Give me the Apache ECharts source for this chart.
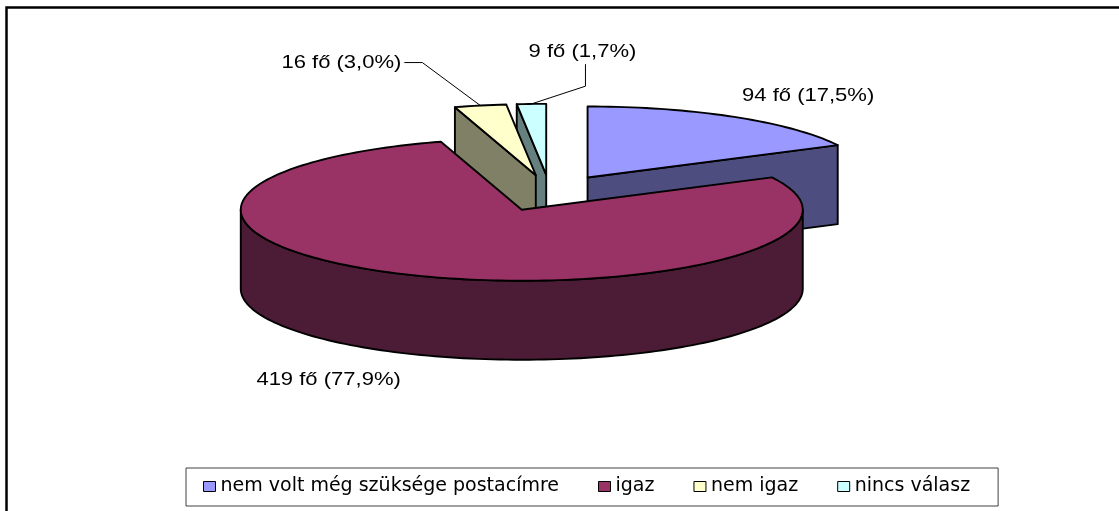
<!DOCTYPE html>
<html>
<head>
<meta charset="utf-8">
<script src="https://cdn.jsdelivr.net/npm/echarts@6/dist/echarts.min.js"></script>
<style>
  html, body { margin: 0; padding: 0; background: #fff; }
  #main { width: 1119px; height: 511px; }
</style>
</head>
<body>
<div id="main"></div>
<script>
// data
const categories = ['nem volt még szüksége postacímre', 'igaz', 'nem igaz', 'nincs válasz'];
const counts = [94, 419, 16, 9];
const topColors = ['#9999FF', '#993366', '#FFFFCC', '#CCFFFF'];
const sideColors = ['#4D4D80', '#4C1B35', '#808066', '#668080'];

// layout of the fake 3d pie (pixels)
const pie = { cx: 550, cy: 193, rx: 281, ry: 71, depth: 79, explode: 72 };
const labelShift = [[74, -21], [-83, 105], [-139, -43], [51, -52]];
const labelFont = { size: 18.5, family: '"Liberation Sans", Arial, sans-serif', stretch: 1.19 };

const total = counts.reduce((a, b) => a + b, 0);
const starts = [];
let acc = 0;
counts.forEach(v => { starts.push(acc); acc += 360 * v / total; });

const rad = d => d * Math.PI / 180;

function origin(mid) {
  return [pie.cx + pie.explode * Math.sin(rad(mid)),
          pie.cy - pie.explode * Math.cos(rad(mid)) * pie.ry / pie.rx];
}
function pt(o, deg, dy) {
  return [o[0] + pie.rx * Math.sin(rad(deg)), o[1] - pie.ry * Math.cos(rad(deg)) + (dy || 0)];
}
function arc(o, a0, a1, dy) {
  const n = Math.max(2, Math.ceil((a1 - a0) / 1.5));
  const pts = [];
  for (let k = 0; k <= n; k++) pts.push(pt(o, a0 + (a1 - a0) * k / n, dy));
  return pts;
}

const measureCtx = document.createElement('canvas').getContext('2d');
function textWidth(t) {
  measureCtx.font = labelFont.size + 'px ' + labelFont.family;
  return measureCtx.measureText(t).width * labelFont.stretch;
}

// front slices get drawn last
const depthKey = counts.map((v, i) => {
  const mid = starts[i] + 180 * v / total;
  return -Math.cos(rad(mid));
});
const zRank = depthKey.map(k => depthKey.filter(o => o < k).length);

function renderItem(params, api) {
  const i = params.seriesIndex;
  const a0 = starts[i];
  const a1 = a0 + 360 * api.value(0) / total;
  const mid = (a0 + a1) / 2;
  const o = origin(mid);
  const edge = { stroke: '#000', lineWidth: 1.9, lineJoin: 'round' };
  const kids = [];

  // outer wall, only the part facing us
  const s = Math.max(a0, 90), e = Math.min(a1, 270);
  if (e > s) {
    kids.push({
      type: 'polygon',
      shape: { points: arc(o, s, e, 0).concat(arc(o, s, e, pie.depth).reverse()) },
      style: Object.assign({ fill: sideColors[i] }, edge)
    });
  }
  // cut faces
  const face = a => {
    const p = pt(o, a);
    return {
      type: 'polygon',
      shape: { points: [o, p, [p[0], p[1] + pie.depth], [o[0], o[1] + pie.depth]] },
      style: Object.assign({ fill: sideColors[i] }, edge)
    };
  };
  if (Math.sin(rad(a0)) < -1e-6) kids.push(face(a0));
  if (Math.sin(rad(a1)) > 1e-6) kids.push(face(a1));

  // top
  kids.push({
    type: 'polygon',
    shape: { points: [o].concat(arc(o, a0, a1, 0)) },
    style: Object.assign({ fill: topColors[i] }, edge)
  });

  // label
  const pct = (api.value(0) / total * 100).toFixed(1).replace('.', ',');
  const txt = api.value(0) + ' fő (' + pct + '%)';
  const anchor = pt(o, mid);
  const pos = [anchor[0] + labelShift[i][0], anchor[1] + labelShift[i][1]];
  kids.push({
    type: 'text',
    x: pos[0], y: pos[1],
    scaleX: labelFont.stretch,
    style: {
      text: txt, fill: '#000',
      fontSize: labelFont.size, fontFamily: labelFont.family,
      align: 'center', verticalAlign: 'middle'
    }
  });

  // leader line for the thin slices
  if (api.value(0) / total < 0.05) {
    const hw = textWidth(txt) / 2, hh = labelFont.size / 2;
    let pts;
    if (Math.abs(labelShift[i][0]) > 1.5 * Math.abs(labelShift[i][1])) {
      const sg = anchor[0] > pos[0] ? 1 : -1;
      const sx = pos[0] + sg * (hw + 3);
      pts = [[sx, pos[1]], [sx + sg * 18, pos[1]], anchor];
    } else {
      const sg = anchor[1] > pos[1] ? 1 : -1;
      const sy = pos[1] + sg * (hh + 3);
      pts = [[pos[0] + 3, sy], [pos[0] + 3, sy + sg * 22], anchor];
    }
    kids.push({
      type: 'polyline',
      shape: { points: pts },
      style: { stroke: '#000', lineWidth: 1, fill: null }
    });
  }
  return { type: 'group', children: kids };
}

const chart = echarts.init(document.getElementById('main'));
chart.setOption({
  animation: false,
  backgroundColor: '#fff',
  graphic: [{
    type: 'rect',
    shape: { x: 6.5, y: 7.5, width: 1300, height: 700 },
    style: { fill: 'none', stroke: '#000', lineWidth: 2.5 }
  }],
  legend: {
    left: 186, top: 468,
    icon: 'rect',
    itemWidth: 12, itemHeight: 10, itemGap: 39,
    padding: [9, 28, 10, 17],
    borderColor: '#404040', borderWidth: 1,
    itemStyle: { borderColor: '#000', borderWidth: 1 },
    textStyle: { fontFamily: '"DejaVu Sans", sans-serif', fontSize: 19, color: '#000' },
    selectedMode: false,
    data: categories
  },
  series: categories.map((name, i) => ({
    type: 'custom',
    name: name,
    coordinateSystem: 'none',
    z: 2 + zRank[i],
    itemStyle: { color: topColors[i] },
    data: [[counts[i]]],
    renderItem: renderItem
  }))
});
</script>
</body>
</html>
